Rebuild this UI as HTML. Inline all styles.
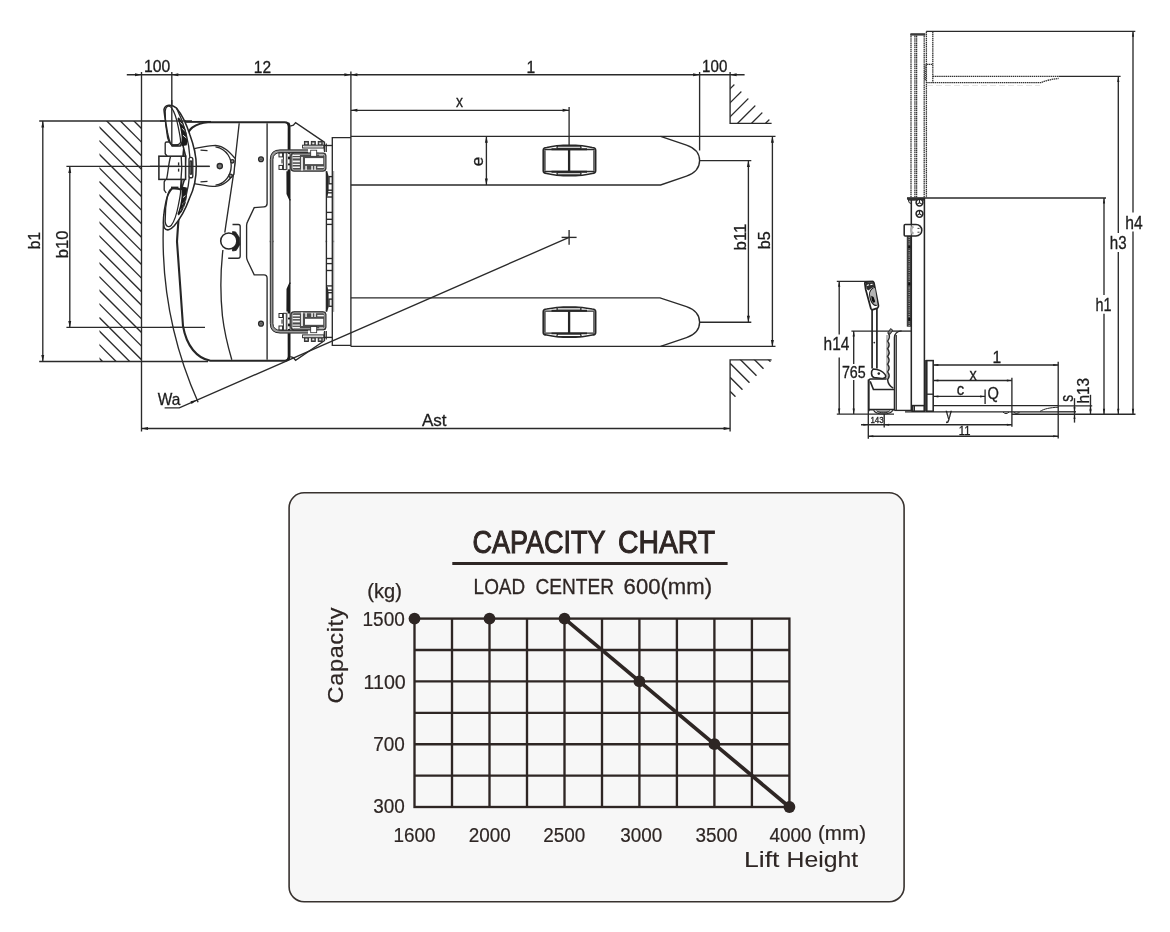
<!DOCTYPE html>
<html lang="en"><head><meta charset="utf-8"><title>Stacker dimensions and capacity chart</title>
<style>
html,body{margin:0;padding:0;background:#fff;}
body{width:1170px;height:932px;overflow:hidden;}
svg{display:block;font-family:"Liberation Sans",sans-serif;will-change:transform;transform:translateZ(0);}
.t{stroke:#2a2a2a;stroke-width:1.35;}
.m{stroke:#262626;stroke-width:1.55;}
.d{stroke:#333;stroke-width:1.3;stroke-dasharray:1.5 0.6;fill:none;}
.d2{stroke:#444;stroke-width:1.1;stroke-dasharray:1.7 0.9;fill:none;}
.ah{fill:#1e1e1e;stroke:none;}
.lbl text{fill:#1c1c1c;stroke:#1c1c1c;stroke-width:0.3;}

</style></head>
<body>
<svg width="1170" height="932" viewBox="0 0 1170 932">
<rect x="0" y="0" width="1170" height="932" fill="#ffffff"/>
<g id="topview">
<clipPath id="h1"><polygon points="99.5,121 141.5,121 141.5,361.5 99.5,361.5"/></clipPath>
<g clip-path="url(#h1)" class="t">
<line x1="90.0" y1="-1133.4" x2="150.0" y2="-1073.4" />
<line x1="90.0" y1="-1119.8" x2="150.0" y2="-1059.8" />
<line x1="90.0" y1="-1106.2" x2="150.0" y2="-1046.2" />
<line x1="90.0" y1="-1092.6" x2="150.0" y2="-1032.6" />
<line x1="90.0" y1="-1079.0" x2="150.0" y2="-1019.0" />
<line x1="90.0" y1="-1065.4" x2="150.0" y2="-1005.4" />
<line x1="90.0" y1="-1051.8" x2="150.0" y2="-991.8" />
<line x1="90.0" y1="-1038.2" x2="150.0" y2="-978.2" />
<line x1="90.0" y1="-1024.6" x2="150.0" y2="-964.6" />
<line x1="90.0" y1="-1011.0" x2="150.0" y2="-951.0" />
<line x1="90.0" y1="-997.4" x2="150.0" y2="-937.4" />
<line x1="90.0" y1="-983.8" x2="150.0" y2="-923.8" />
<line x1="90.0" y1="-970.2" x2="150.0" y2="-910.2" />
<line x1="90.0" y1="-956.6" x2="150.0" y2="-896.6" />
<line x1="90.0" y1="-943.0" x2="150.0" y2="-883.0" />
<line x1="90.0" y1="-929.4" x2="150.0" y2="-869.4" />
<line x1="90.0" y1="-915.8" x2="150.0" y2="-855.8" />
<line x1="90.0" y1="-902.2" x2="150.0" y2="-842.2" />
<line x1="90.0" y1="-888.6" x2="150.0" y2="-828.6" />
<line x1="90.0" y1="-875.0" x2="150.0" y2="-815.0" />
<line x1="90.0" y1="-861.4" x2="150.0" y2="-801.4" />
<line x1="90.0" y1="-847.8" x2="150.0" y2="-787.8" />
<line x1="90.0" y1="-834.2" x2="150.0" y2="-774.2" />
<line x1="90.0" y1="-820.6" x2="150.0" y2="-760.6" />
<line x1="90.0" y1="-807.0" x2="150.0" y2="-747.0" />
<line x1="90.0" y1="-793.4" x2="150.0" y2="-733.4" />
<line x1="90.0" y1="-779.8" x2="150.0" y2="-719.8" />
<line x1="90.0" y1="-766.2" x2="150.0" y2="-706.2" />
<line x1="90.0" y1="-752.6" x2="150.0" y2="-692.6" />
<line x1="90.0" y1="-739.0" x2="150.0" y2="-679.0" />
<line x1="90.0" y1="-725.4" x2="150.0" y2="-665.4" />
<line x1="90.0" y1="-711.8" x2="150.0" y2="-651.8" />
<line x1="90.0" y1="-698.2" x2="150.0" y2="-638.2" />
<line x1="90.0" y1="-684.6" x2="150.0" y2="-624.6" />
<line x1="90.0" y1="-671.0" x2="150.0" y2="-611.0" />
<line x1="90.0" y1="-657.4" x2="150.0" y2="-597.4" />
<line x1="90.0" y1="-643.8" x2="150.0" y2="-583.8" />
<line x1="90.0" y1="-630.2" x2="150.0" y2="-570.2" />
<line x1="90.0" y1="-616.6" x2="150.0" y2="-556.6" />
<line x1="90.0" y1="-603.0" x2="150.0" y2="-543.0" />
<line x1="90.0" y1="-589.4" x2="150.0" y2="-529.4" />
<line x1="90.0" y1="-575.8" x2="150.0" y2="-515.8" />
<line x1="90.0" y1="-562.2" x2="150.0" y2="-502.2" />
<line x1="90.0" y1="-548.6" x2="150.0" y2="-488.6" />
<line x1="90.0" y1="-535.0" x2="150.0" y2="-475.0" />
<line x1="90.0" y1="-521.4" x2="150.0" y2="-461.4" />
<line x1="90.0" y1="-507.8" x2="150.0" y2="-447.8" />
<line x1="90.0" y1="-494.2" x2="150.0" y2="-434.2" />
<line x1="90.0" y1="-480.6" x2="150.0" y2="-420.6" />
<line x1="90.0" y1="-467.0" x2="150.0" y2="-407.0" />
<line x1="90.0" y1="-453.4" x2="150.0" y2="-393.4" />
<line x1="90.0" y1="-439.8" x2="150.0" y2="-379.8" />
<line x1="90.0" y1="-426.2" x2="150.0" y2="-366.2" />
<line x1="90.0" y1="-412.6" x2="150.0" y2="-352.6" />
<line x1="90.0" y1="-399.0" x2="150.0" y2="-339.0" />
<line x1="90.0" y1="-385.4" x2="150.0" y2="-325.4" />
<line x1="90.0" y1="-371.8" x2="150.0" y2="-311.8" />
<line x1="90.0" y1="-358.2" x2="150.0" y2="-298.2" />
<line x1="90.0" y1="-344.6" x2="150.0" y2="-284.6" />
<line x1="90.0" y1="-331.0" x2="150.0" y2="-271.0" />
<line x1="90.0" y1="-317.4" x2="150.0" y2="-257.4" />
<line x1="90.0" y1="-303.8" x2="150.0" y2="-243.8" />
<line x1="90.0" y1="-290.2" x2="150.0" y2="-230.2" />
<line x1="90.0" y1="-276.6" x2="150.0" y2="-216.6" />
<line x1="90.0" y1="-263.0" x2="150.0" y2="-203.0" />
<line x1="90.0" y1="-249.4" x2="150.0" y2="-189.4" />
<line x1="90.0" y1="-235.8" x2="150.0" y2="-175.8" />
<line x1="90.0" y1="-222.2" x2="150.0" y2="-162.2" />
<line x1="90.0" y1="-208.6" x2="150.0" y2="-148.6" />
<line x1="90.0" y1="-195.0" x2="150.0" y2="-135.0" />
<line x1="90.0" y1="-181.4" x2="150.0" y2="-121.4" />
<line x1="90.0" y1="-167.8" x2="150.0" y2="-107.8" />
<line x1="90.0" y1="-154.2" x2="150.0" y2="-94.2" />
<line x1="90.0" y1="-140.6" x2="150.0" y2="-80.6" />
<line x1="90.0" y1="-127.0" x2="150.0" y2="-67.0" />
<line x1="90.0" y1="-113.4" x2="150.0" y2="-53.4" />
<line x1="90.0" y1="-99.8" x2="150.0" y2="-39.8" />
<line x1="90.0" y1="-86.2" x2="150.0" y2="-26.2" />
<line x1="90.0" y1="-72.6" x2="150.0" y2="-12.6" />
<line x1="90.0" y1="-59.0" x2="150.0" y2="1.0" />
<line x1="90.0" y1="-45.4" x2="150.0" y2="14.6" />
<line x1="90.0" y1="-31.8" x2="150.0" y2="28.2" />
<line x1="90.0" y1="-18.2" x2="150.0" y2="41.8" />
<line x1="90.0" y1="-4.6" x2="150.0" y2="55.4" />
<line x1="90.0" y1="9.0" x2="150.0" y2="69.0" />
<line x1="90.0" y1="22.6" x2="150.0" y2="82.6" />
<line x1="90.0" y1="36.2" x2="150.0" y2="96.2" />
<line x1="90.0" y1="49.8" x2="150.0" y2="109.8" />
<line x1="90.0" y1="63.4" x2="150.0" y2="123.4" />
<line x1="90.0" y1="77.0" x2="150.0" y2="137.0" />
<line x1="90.0" y1="90.6" x2="150.0" y2="150.6" />
<line x1="90.0" y1="104.2" x2="150.0" y2="164.2" />
<line x1="90.0" y1="117.8" x2="150.0" y2="177.8" />
<line x1="90.0" y1="131.4" x2="150.0" y2="191.4" />
<line x1="90.0" y1="145.0" x2="150.0" y2="205.0" />
<line x1="90.0" y1="158.6" x2="150.0" y2="218.6" />
<line x1="90.0" y1="172.2" x2="150.0" y2="232.2" />
<line x1="90.0" y1="185.8" x2="150.0" y2="245.8" />
<line x1="90.0" y1="199.4" x2="150.0" y2="259.4" />
<line x1="90.0" y1="213.0" x2="150.0" y2="273.0" />
<line x1="90.0" y1="226.6" x2="150.0" y2="286.6" />
<line x1="90.0" y1="240.2" x2="150.0" y2="300.2" />
<line x1="90.0" y1="253.8" x2="150.0" y2="313.8" />
<line x1="90.0" y1="267.4" x2="150.0" y2="327.4" />
<line x1="90.0" y1="281.0" x2="150.0" y2="341.0" />
<line x1="90.0" y1="294.6" x2="150.0" y2="354.6" />
<line x1="90.0" y1="308.2" x2="150.0" y2="368.2" />
<line x1="90.0" y1="321.8" x2="150.0" y2="381.8" />
<line x1="90.0" y1="335.4" x2="150.0" y2="395.4" />
<line x1="90.0" y1="349.0" x2="150.0" y2="409.0" />
<line x1="90.0" y1="362.6" x2="150.0" y2="422.6" />
<line x1="90.0" y1="376.2" x2="150.0" y2="436.2" />
<line x1="90.0" y1="389.8" x2="150.0" y2="449.8" />
<line x1="90.0" y1="403.4" x2="150.0" y2="463.4" />
<line x1="90.0" y1="417.0" x2="150.0" y2="477.0" />
<line x1="90.0" y1="430.6" x2="150.0" y2="490.6" />
<line x1="90.0" y1="444.2" x2="150.0" y2="504.2" />
<line x1="90.0" y1="457.8" x2="150.0" y2="517.8" />
<line x1="90.0" y1="471.4" x2="150.0" y2="531.4" />
<line x1="90.0" y1="485.0" x2="150.0" y2="545.0" />
<line x1="90.0" y1="498.6" x2="150.0" y2="558.6" />
<line x1="90.0" y1="512.2" x2="150.0" y2="572.2" />
<line x1="90.0" y1="525.8" x2="150.0" y2="585.8" />
<line x1="90.0" y1="539.4" x2="150.0" y2="599.4" />
<line x1="90.0" y1="553.0" x2="150.0" y2="613.0" />
<line x1="90.0" y1="566.6" x2="150.0" y2="626.6" />
<line x1="90.0" y1="580.2" x2="150.0" y2="640.2" />
<line x1="90.0" y1="593.8" x2="150.0" y2="653.8" />
<line x1="90.0" y1="607.4" x2="150.0" y2="667.4" />
<line x1="90.0" y1="621.0" x2="150.0" y2="681.0" />
<line x1="90.0" y1="634.6" x2="150.0" y2="694.6" />
<line x1="90.0" y1="648.2" x2="150.0" y2="708.2" />
<line x1="90.0" y1="661.8" x2="150.0" y2="721.8" />
<line x1="90.0" y1="675.4" x2="150.0" y2="735.4" />
<line x1="90.0" y1="689.0" x2="150.0" y2="749.0" />
<line x1="90.0" y1="702.6" x2="150.0" y2="762.6" />
<line x1="90.0" y1="716.2" x2="150.0" y2="776.2" />
<line x1="90.0" y1="729.8" x2="150.0" y2="789.8" />
<line x1="90.0" y1="743.4" x2="150.0" y2="803.4" />
<line x1="90.0" y1="757.0" x2="150.0" y2="817.0" />
<line x1="90.0" y1="770.6" x2="150.0" y2="830.6" />
<line x1="90.0" y1="784.2" x2="150.0" y2="844.2" />
<line x1="90.0" y1="797.8" x2="150.0" y2="857.8" />
<line x1="90.0" y1="811.4" x2="150.0" y2="871.4" />
<line x1="90.0" y1="825.0" x2="150.0" y2="885.0" />
<line x1="90.0" y1="838.6" x2="150.0" y2="898.6" />
<line x1="90.0" y1="852.2" x2="150.0" y2="912.2" />
<line x1="90.0" y1="865.8" x2="150.0" y2="925.8" />
<line x1="90.0" y1="879.4" x2="150.0" y2="939.4" />
<line x1="90.0" y1="893.0" x2="150.0" y2="953.0" />
<line x1="90.0" y1="906.6" x2="150.0" y2="966.6" />
<line x1="90.0" y1="920.2" x2="150.0" y2="980.2" />
<line x1="90.0" y1="933.8" x2="150.0" y2="993.8" />
<line x1="90.0" y1="947.4" x2="150.0" y2="1007.4" />
<line x1="90.0" y1="961.0" x2="150.0" y2="1021.0" />
<line x1="90.0" y1="974.6" x2="150.0" y2="1034.6" />
<line x1="90.0" y1="988.2" x2="150.0" y2="1048.2" />
<line x1="90.0" y1="1001.8" x2="150.0" y2="1061.8" />
<line x1="90.0" y1="1015.4" x2="150.0" y2="1075.4" />
<line x1="90.0" y1="1029.0" x2="150.0" y2="1089.0" />
<line x1="90.0" y1="1042.6" x2="150.0" y2="1102.6" />
<line x1="90.0" y1="1056.2" x2="150.0" y2="1116.2" />
<line x1="90.0" y1="1069.8" x2="150.0" y2="1129.8" />
<line x1="90.0" y1="1083.4" x2="150.0" y2="1143.4" />
<line x1="90.0" y1="1097.0" x2="150.0" y2="1157.0" />
<line x1="90.0" y1="1110.6" x2="150.0" y2="1170.6" />
<line x1="90.0" y1="1124.2" x2="150.0" y2="1184.2" />
<line x1="90.0" y1="1137.8" x2="150.0" y2="1197.8" />
<line x1="90.0" y1="1151.4" x2="150.0" y2="1211.4" />
<line x1="90.0" y1="1165.0" x2="150.0" y2="1225.0" />
<line x1="90.0" y1="1178.6" x2="150.0" y2="1238.6" />
<line x1="90.0" y1="1192.2" x2="150.0" y2="1252.2" />
<line x1="90.0" y1="1205.8" x2="150.0" y2="1265.8" />
<line x1="90.0" y1="1219.4" x2="150.0" y2="1279.4" />
<line x1="90.0" y1="1233.0" x2="150.0" y2="1293.0" />
<line x1="90.0" y1="1246.6" x2="150.0" y2="1306.6" />
<line x1="90.0" y1="1260.2" x2="150.0" y2="1320.2" />
<line x1="90.0" y1="1273.8" x2="150.0" y2="1333.8" />
<line x1="90.0" y1="1287.4" x2="150.0" y2="1347.4" />
<line x1="90.0" y1="1301.0" x2="150.0" y2="1361.0" />
</g>
<clipPath id="h2"><polygon points="730.1,80.3 730.1,123.4 771.6,123.4 771.6,121.8"/></clipPath>
<g clip-path="url(#h2)" class="t">
<line x1="723.0" y1="-1976.1" x2="780.0" y2="-2033.1" />
<line x1="723.0" y1="-1962.1" x2="780.0" y2="-2019.1" />
<line x1="723.0" y1="-1948.1" x2="780.0" y2="-2005.1" />
<line x1="723.0" y1="-1934.1" x2="780.0" y2="-1991.1" />
<line x1="723.0" y1="-1920.1" x2="780.0" y2="-1977.1" />
<line x1="723.0" y1="-1906.1" x2="780.0" y2="-1963.1" />
<line x1="723.0" y1="-1892.1" x2="780.0" y2="-1949.1" />
<line x1="723.0" y1="-1878.1" x2="780.0" y2="-1935.1" />
<line x1="723.0" y1="-1864.1" x2="780.0" y2="-1921.1" />
<line x1="723.0" y1="-1850.1" x2="780.0" y2="-1907.1" />
<line x1="723.0" y1="-1836.1" x2="780.0" y2="-1893.1" />
<line x1="723.0" y1="-1822.1" x2="780.0" y2="-1879.1" />
<line x1="723.0" y1="-1808.1" x2="780.0" y2="-1865.1" />
<line x1="723.0" y1="-1794.1" x2="780.0" y2="-1851.1" />
<line x1="723.0" y1="-1780.1" x2="780.0" y2="-1837.1" />
<line x1="723.0" y1="-1766.1" x2="780.0" y2="-1823.1" />
<line x1="723.0" y1="-1752.1" x2="780.0" y2="-1809.1" />
<line x1="723.0" y1="-1738.1" x2="780.0" y2="-1795.1" />
<line x1="723.0" y1="-1724.1" x2="780.0" y2="-1781.1" />
<line x1="723.0" y1="-1710.1" x2="780.0" y2="-1767.1" />
<line x1="723.0" y1="-1696.1" x2="780.0" y2="-1753.1" />
<line x1="723.0" y1="-1682.1" x2="780.0" y2="-1739.1" />
<line x1="723.0" y1="-1668.1" x2="780.0" y2="-1725.1" />
<line x1="723.0" y1="-1654.1" x2="780.0" y2="-1711.1" />
<line x1="723.0" y1="-1640.1" x2="780.0" y2="-1697.1" />
<line x1="723.0" y1="-1626.1" x2="780.0" y2="-1683.1" />
<line x1="723.0" y1="-1612.1" x2="780.0" y2="-1669.1" />
<line x1="723.0" y1="-1598.1" x2="780.0" y2="-1655.1" />
<line x1="723.0" y1="-1584.1" x2="780.0" y2="-1641.1" />
<line x1="723.0" y1="-1570.1" x2="780.0" y2="-1627.1" />
<line x1="723.0" y1="-1556.1" x2="780.0" y2="-1613.1" />
<line x1="723.0" y1="-1542.1" x2="780.0" y2="-1599.1" />
<line x1="723.0" y1="-1528.1" x2="780.0" y2="-1585.1" />
<line x1="723.0" y1="-1514.1" x2="780.0" y2="-1571.1" />
<line x1="723.0" y1="-1500.1" x2="780.0" y2="-1557.1" />
<line x1="723.0" y1="-1486.1" x2="780.0" y2="-1543.1" />
<line x1="723.0" y1="-1472.1" x2="780.0" y2="-1529.1" />
<line x1="723.0" y1="-1458.1" x2="780.0" y2="-1515.1" />
<line x1="723.0" y1="-1444.1" x2="780.0" y2="-1501.1" />
<line x1="723.0" y1="-1430.1" x2="780.0" y2="-1487.1" />
<line x1="723.0" y1="-1416.1" x2="780.0" y2="-1473.1" />
<line x1="723.0" y1="-1402.1" x2="780.0" y2="-1459.1" />
<line x1="723.0" y1="-1388.1" x2="780.0" y2="-1445.1" />
<line x1="723.0" y1="-1374.1" x2="780.0" y2="-1431.1" />
<line x1="723.0" y1="-1360.1" x2="780.0" y2="-1417.1" />
<line x1="723.0" y1="-1346.1" x2="780.0" y2="-1403.1" />
<line x1="723.0" y1="-1332.1" x2="780.0" y2="-1389.1" />
<line x1="723.0" y1="-1318.1" x2="780.0" y2="-1375.1" />
<line x1="723.0" y1="-1304.1" x2="780.0" y2="-1361.1" />
<line x1="723.0" y1="-1290.1" x2="780.0" y2="-1347.1" />
<line x1="723.0" y1="-1276.1" x2="780.0" y2="-1333.1" />
<line x1="723.0" y1="-1262.1" x2="780.0" y2="-1319.1" />
<line x1="723.0" y1="-1248.1" x2="780.0" y2="-1305.1" />
<line x1="723.0" y1="-1234.1" x2="780.0" y2="-1291.1" />
<line x1="723.0" y1="-1220.1" x2="780.0" y2="-1277.1" />
<line x1="723.0" y1="-1206.1" x2="780.0" y2="-1263.1" />
<line x1="723.0" y1="-1192.1" x2="780.0" y2="-1249.1" />
<line x1="723.0" y1="-1178.1" x2="780.0" y2="-1235.1" />
<line x1="723.0" y1="-1164.1" x2="780.0" y2="-1221.1" />
<line x1="723.0" y1="-1150.1" x2="780.0" y2="-1207.1" />
<line x1="723.0" y1="-1136.1" x2="780.0" y2="-1193.1" />
<line x1="723.0" y1="-1122.1" x2="780.0" y2="-1179.1" />
<line x1="723.0" y1="-1108.1" x2="780.0" y2="-1165.1" />
<line x1="723.0" y1="-1094.1" x2="780.0" y2="-1151.1" />
<line x1="723.0" y1="-1080.1" x2="780.0" y2="-1137.1" />
<line x1="723.0" y1="-1066.1" x2="780.0" y2="-1123.1" />
<line x1="723.0" y1="-1052.1" x2="780.0" y2="-1109.1" />
<line x1="723.0" y1="-1038.1" x2="780.0" y2="-1095.1" />
<line x1="723.0" y1="-1024.1" x2="780.0" y2="-1081.1" />
<line x1="723.0" y1="-1010.1" x2="780.0" y2="-1067.1" />
<line x1="723.0" y1="-996.1" x2="780.0" y2="-1053.1" />
<line x1="723.0" y1="-982.1" x2="780.0" y2="-1039.1" />
<line x1="723.0" y1="-968.1" x2="780.0" y2="-1025.1" />
<line x1="723.0" y1="-954.1" x2="780.0" y2="-1011.1" />
<line x1="723.0" y1="-940.1" x2="780.0" y2="-997.1" />
<line x1="723.0" y1="-926.1" x2="780.0" y2="-983.1" />
<line x1="723.0" y1="-912.1" x2="780.0" y2="-969.1" />
<line x1="723.0" y1="-898.1" x2="780.0" y2="-955.1" />
<line x1="723.0" y1="-884.1" x2="780.0" y2="-941.1" />
<line x1="723.0" y1="-870.1" x2="780.0" y2="-927.1" />
<line x1="723.0" y1="-856.1" x2="780.0" y2="-913.1" />
<line x1="723.0" y1="-842.1" x2="780.0" y2="-899.1" />
<line x1="723.0" y1="-828.1" x2="780.0" y2="-885.1" />
<line x1="723.0" y1="-814.1" x2="780.0" y2="-871.1" />
<line x1="723.0" y1="-800.1" x2="780.0" y2="-857.1" />
<line x1="723.0" y1="-786.1" x2="780.0" y2="-843.1" />
<line x1="723.0" y1="-772.1" x2="780.0" y2="-829.1" />
<line x1="723.0" y1="-758.1" x2="780.0" y2="-815.1" />
<line x1="723.0" y1="-744.1" x2="780.0" y2="-801.1" />
<line x1="723.0" y1="-730.1" x2="780.0" y2="-787.1" />
<line x1="723.0" y1="-716.1" x2="780.0" y2="-773.1" />
<line x1="723.0" y1="-702.1" x2="780.0" y2="-759.1" />
<line x1="723.0" y1="-688.1" x2="780.0" y2="-745.1" />
<line x1="723.0" y1="-674.1" x2="780.0" y2="-731.1" />
<line x1="723.0" y1="-660.1" x2="780.0" y2="-717.1" />
<line x1="723.0" y1="-646.1" x2="780.0" y2="-703.1" />
<line x1="723.0" y1="-632.1" x2="780.0" y2="-689.1" />
<line x1="723.0" y1="-618.1" x2="780.0" y2="-675.1" />
<line x1="723.0" y1="-604.1" x2="780.0" y2="-661.1" />
<line x1="723.0" y1="-590.1" x2="780.0" y2="-647.1" />
<line x1="723.0" y1="-576.1" x2="780.0" y2="-633.1" />
<line x1="723.0" y1="-562.1" x2="780.0" y2="-619.1" />
<line x1="723.0" y1="-548.1" x2="780.0" y2="-605.1" />
<line x1="723.0" y1="-534.1" x2="780.0" y2="-591.1" />
<line x1="723.0" y1="-520.1" x2="780.0" y2="-577.1" />
<line x1="723.0" y1="-506.1" x2="780.0" y2="-563.1" />
<line x1="723.0" y1="-492.1" x2="780.0" y2="-549.1" />
<line x1="723.0" y1="-478.1" x2="780.0" y2="-535.1" />
<line x1="723.0" y1="-464.1" x2="780.0" y2="-521.1" />
<line x1="723.0" y1="-450.1" x2="780.0" y2="-507.1" />
<line x1="723.0" y1="-436.1" x2="780.0" y2="-493.1" />
<line x1="723.0" y1="-422.1" x2="780.0" y2="-479.1" />
<line x1="723.0" y1="-408.1" x2="780.0" y2="-465.1" />
<line x1="723.0" y1="-394.1" x2="780.0" y2="-451.1" />
<line x1="723.0" y1="-380.1" x2="780.0" y2="-437.1" />
<line x1="723.0" y1="-366.1" x2="780.0" y2="-423.1" />
<line x1="723.0" y1="-352.1" x2="780.0" y2="-409.1" />
<line x1="723.0" y1="-338.1" x2="780.0" y2="-395.1" />
<line x1="723.0" y1="-324.1" x2="780.0" y2="-381.1" />
<line x1="723.0" y1="-310.1" x2="780.0" y2="-367.1" />
<line x1="723.0" y1="-296.1" x2="780.0" y2="-353.1" />
<line x1="723.0" y1="-282.1" x2="780.0" y2="-339.1" />
<line x1="723.0" y1="-268.1" x2="780.0" y2="-325.1" />
<line x1="723.0" y1="-254.1" x2="780.0" y2="-311.1" />
<line x1="723.0" y1="-240.1" x2="780.0" y2="-297.1" />
<line x1="723.0" y1="-226.1" x2="780.0" y2="-283.1" />
<line x1="723.0" y1="-212.1" x2="780.0" y2="-269.1" />
<line x1="723.0" y1="-198.1" x2="780.0" y2="-255.1" />
<line x1="723.0" y1="-184.1" x2="780.0" y2="-241.1" />
<line x1="723.0" y1="-170.1" x2="780.0" y2="-227.1" />
<line x1="723.0" y1="-156.1" x2="780.0" y2="-213.1" />
<line x1="723.0" y1="-142.1" x2="780.0" y2="-199.1" />
<line x1="723.0" y1="-128.1" x2="780.0" y2="-185.1" />
<line x1="723.0" y1="-114.1" x2="780.0" y2="-171.1" />
<line x1="723.0" y1="-100.1" x2="780.0" y2="-157.1" />
<line x1="723.0" y1="-86.1" x2="780.0" y2="-143.1" />
<line x1="723.0" y1="-72.1" x2="780.0" y2="-129.1" />
<line x1="723.0" y1="-58.1" x2="780.0" y2="-115.1" />
<line x1="723.0" y1="-44.1" x2="780.0" y2="-101.1" />
<line x1="723.0" y1="-30.1" x2="780.0" y2="-87.1" />
<line x1="723.0" y1="-16.1" x2="780.0" y2="-73.1" />
<line x1="723.0" y1="-2.1" x2="780.0" y2="-59.1" />
<line x1="723.0" y1="11.9" x2="780.0" y2="-45.1" />
<line x1="723.0" y1="25.9" x2="780.0" y2="-31.1" />
<line x1="723.0" y1="39.9" x2="780.0" y2="-17.1" />
<line x1="723.0" y1="53.9" x2="780.0" y2="-3.1" />
<line x1="723.0" y1="67.9" x2="780.0" y2="10.9" />
<line x1="723.0" y1="81.9" x2="780.0" y2="24.9" />
<line x1="723.0" y1="95.9" x2="780.0" y2="38.9" />
<line x1="723.0" y1="109.9" x2="780.0" y2="52.9" />
<line x1="723.0" y1="123.9" x2="780.0" y2="66.9" />
<line x1="723.0" y1="137.9" x2="780.0" y2="80.9" />
<line x1="723.0" y1="151.9" x2="780.0" y2="94.9" />
<line x1="723.0" y1="165.9" x2="780.0" y2="108.9" />
<line x1="723.0" y1="179.9" x2="780.0" y2="122.9" />
<line x1="723.0" y1="193.9" x2="780.0" y2="136.9" />
<line x1="723.0" y1="207.9" x2="780.0" y2="150.9" />
<line x1="723.0" y1="221.9" x2="780.0" y2="164.9" />
<line x1="723.0" y1="235.9" x2="780.0" y2="178.9" />
<line x1="723.0" y1="249.9" x2="780.0" y2="192.9" />
<line x1="723.0" y1="263.9" x2="780.0" y2="206.9" />
<line x1="723.0" y1="277.9" x2="780.0" y2="220.9" />
<line x1="723.0" y1="291.9" x2="780.0" y2="234.9" />
<line x1="723.0" y1="305.9" x2="780.0" y2="248.9" />
<line x1="723.0" y1="319.9" x2="780.0" y2="262.9" />
<line x1="723.0" y1="333.9" x2="780.0" y2="276.9" />
<line x1="723.0" y1="347.9" x2="780.0" y2="290.9" />
<line x1="723.0" y1="361.9" x2="780.0" y2="304.9" />
<line x1="723.0" y1="375.9" x2="780.0" y2="318.9" />
<line x1="723.0" y1="389.9" x2="780.0" y2="332.9" />
<line x1="723.0" y1="403.9" x2="780.0" y2="346.9" />
<line x1="723.0" y1="417.9" x2="780.0" y2="360.9" />
<line x1="723.0" y1="431.9" x2="780.0" y2="374.9" />
<line x1="723.0" y1="445.9" x2="780.0" y2="388.9" />
<line x1="723.0" y1="459.9" x2="780.0" y2="402.9" />
<line x1="723.0" y1="473.9" x2="780.0" y2="416.9" />
<line x1="723.0" y1="487.9" x2="780.0" y2="430.9" />
<line x1="723.0" y1="501.9" x2="780.0" y2="444.9" />
<line x1="723.0" y1="515.9" x2="780.0" y2="458.9" />
<line x1="723.0" y1="529.9" x2="780.0" y2="472.9" />
</g>
<clipPath id="h3"><polygon points="730.1,359.8 771.6,359.8 771.6,360.6 730.1,402.1"/></clipPath>
<g clip-path="url(#h3)" class="t">
<line x1="723.0" y1="-539.8" x2="780.0" y2="-482.8" />
<line x1="723.0" y1="-525.8" x2="780.0" y2="-468.8" />
<line x1="723.0" y1="-511.8" x2="780.0" y2="-454.8" />
<line x1="723.0" y1="-497.8" x2="780.0" y2="-440.8" />
<line x1="723.0" y1="-483.8" x2="780.0" y2="-426.8" />
<line x1="723.0" y1="-469.8" x2="780.0" y2="-412.8" />
<line x1="723.0" y1="-455.8" x2="780.0" y2="-398.8" />
<line x1="723.0" y1="-441.8" x2="780.0" y2="-384.8" />
<line x1="723.0" y1="-427.8" x2="780.0" y2="-370.8" />
<line x1="723.0" y1="-413.8" x2="780.0" y2="-356.8" />
<line x1="723.0" y1="-399.8" x2="780.0" y2="-342.8" />
<line x1="723.0" y1="-385.8" x2="780.0" y2="-328.8" />
<line x1="723.0" y1="-371.8" x2="780.0" y2="-314.8" />
<line x1="723.0" y1="-357.8" x2="780.0" y2="-300.8" />
<line x1="723.0" y1="-343.8" x2="780.0" y2="-286.8" />
<line x1="723.0" y1="-329.8" x2="780.0" y2="-272.8" />
<line x1="723.0" y1="-315.8" x2="780.0" y2="-258.8" />
<line x1="723.0" y1="-301.8" x2="780.0" y2="-244.8" />
<line x1="723.0" y1="-287.8" x2="780.0" y2="-230.8" />
<line x1="723.0" y1="-273.8" x2="780.0" y2="-216.8" />
<line x1="723.0" y1="-259.8" x2="780.0" y2="-202.8" />
<line x1="723.0" y1="-245.8" x2="780.0" y2="-188.8" />
<line x1="723.0" y1="-231.8" x2="780.0" y2="-174.8" />
<line x1="723.0" y1="-217.8" x2="780.0" y2="-160.8" />
<line x1="723.0" y1="-203.8" x2="780.0" y2="-146.8" />
<line x1="723.0" y1="-189.8" x2="780.0" y2="-132.8" />
<line x1="723.0" y1="-175.8" x2="780.0" y2="-118.8" />
<line x1="723.0" y1="-161.8" x2="780.0" y2="-104.8" />
<line x1="723.0" y1="-147.8" x2="780.0" y2="-90.8" />
<line x1="723.0" y1="-133.8" x2="780.0" y2="-76.8" />
<line x1="723.0" y1="-119.8" x2="780.0" y2="-62.8" />
<line x1="723.0" y1="-105.8" x2="780.0" y2="-48.8" />
<line x1="723.0" y1="-91.8" x2="780.0" y2="-34.8" />
<line x1="723.0" y1="-77.8" x2="780.0" y2="-20.8" />
<line x1="723.0" y1="-63.8" x2="780.0" y2="-6.8" />
<line x1="723.0" y1="-49.8" x2="780.0" y2="7.2" />
<line x1="723.0" y1="-35.8" x2="780.0" y2="21.2" />
<line x1="723.0" y1="-21.8" x2="780.0" y2="35.2" />
<line x1="723.0" y1="-7.8" x2="780.0" y2="49.2" />
<line x1="723.0" y1="6.2" x2="780.0" y2="63.2" />
<line x1="723.0" y1="20.2" x2="780.0" y2="77.2" />
<line x1="723.0" y1="34.2" x2="780.0" y2="91.2" />
<line x1="723.0" y1="48.2" x2="780.0" y2="105.2" />
<line x1="723.0" y1="62.2" x2="780.0" y2="119.2" />
<line x1="723.0" y1="76.2" x2="780.0" y2="133.2" />
<line x1="723.0" y1="90.2" x2="780.0" y2="147.2" />
<line x1="723.0" y1="104.2" x2="780.0" y2="161.2" />
<line x1="723.0" y1="118.2" x2="780.0" y2="175.2" />
<line x1="723.0" y1="132.2" x2="780.0" y2="189.2" />
<line x1="723.0" y1="146.2" x2="780.0" y2="203.2" />
<line x1="723.0" y1="160.2" x2="780.0" y2="217.2" />
<line x1="723.0" y1="174.2" x2="780.0" y2="231.2" />
<line x1="723.0" y1="188.2" x2="780.0" y2="245.2" />
<line x1="723.0" y1="202.2" x2="780.0" y2="259.2" />
<line x1="723.0" y1="216.2" x2="780.0" y2="273.2" />
<line x1="723.0" y1="230.2" x2="780.0" y2="287.2" />
<line x1="723.0" y1="244.2" x2="780.0" y2="301.2" />
<line x1="723.0" y1="258.2" x2="780.0" y2="315.2" />
<line x1="723.0" y1="272.2" x2="780.0" y2="329.2" />
<line x1="723.0" y1="286.2" x2="780.0" y2="343.2" />
<line x1="723.0" y1="300.2" x2="780.0" y2="357.2" />
<line x1="723.0" y1="314.2" x2="780.0" y2="371.2" />
<line x1="723.0" y1="328.2" x2="780.0" y2="385.2" />
<line x1="723.0" y1="342.2" x2="780.0" y2="399.2" />
<line x1="723.0" y1="356.2" x2="780.0" y2="413.2" />
<line x1="723.0" y1="370.2" x2="780.0" y2="427.2" />
<line x1="723.0" y1="384.2" x2="780.0" y2="441.2" />
<line x1="723.0" y1="398.2" x2="780.0" y2="455.2" />
<line x1="723.0" y1="412.2" x2="780.0" y2="469.2" />
<line x1="723.0" y1="426.2" x2="780.0" y2="483.2" />
<line x1="723.0" y1="440.2" x2="780.0" y2="497.2" />
<line x1="723.0" y1="454.2" x2="780.0" y2="511.2" />
<line x1="723.0" y1="468.2" x2="780.0" y2="525.2" />
<line x1="723.0" y1="482.2" x2="780.0" y2="539.2" />
<line x1="723.0" y1="496.2" x2="780.0" y2="553.2" />
<line x1="723.0" y1="510.2" x2="780.0" y2="567.2" />
<line x1="723.0" y1="524.2" x2="780.0" y2="581.2" />
<line x1="723.0" y1="538.2" x2="780.0" y2="595.2" />
<line x1="723.0" y1="552.2" x2="780.0" y2="609.2" />
<line x1="723.0" y1="566.2" x2="780.0" y2="623.2" />
<line x1="723.0" y1="580.2" x2="780.0" y2="637.2" />
<line x1="723.0" y1="594.2" x2="780.0" y2="651.2" />
<line x1="723.0" y1="608.2" x2="780.0" y2="665.2" />
<line x1="723.0" y1="622.2" x2="780.0" y2="679.2" />
<line x1="723.0" y1="636.2" x2="780.0" y2="693.2" />
<line x1="723.0" y1="650.2" x2="780.0" y2="707.2" />
<line x1="723.0" y1="664.2" x2="780.0" y2="721.2" />
<line x1="723.0" y1="678.2" x2="780.0" y2="735.2" />
<line x1="723.0" y1="692.2" x2="780.0" y2="749.2" />
<line x1="723.0" y1="706.2" x2="780.0" y2="763.2" />
<line x1="723.0" y1="720.2" x2="780.0" y2="777.2" />
<line x1="723.0" y1="734.2" x2="780.0" y2="791.2" />
<line x1="723.0" y1="748.2" x2="780.0" y2="805.2" />
<line x1="723.0" y1="762.2" x2="780.0" y2="819.2" />
<line x1="723.0" y1="776.2" x2="780.0" y2="833.2" />
<line x1="723.0" y1="790.2" x2="780.0" y2="847.2" />
<line x1="723.0" y1="804.2" x2="780.0" y2="861.2" />
<line x1="723.0" y1="818.2" x2="780.0" y2="875.2" />
<line x1="723.0" y1="832.2" x2="780.0" y2="889.2" />
<line x1="723.0" y1="846.2" x2="780.0" y2="903.2" />
<line x1="723.0" y1="860.2" x2="780.0" y2="917.2" />
<line x1="723.0" y1="874.2" x2="780.0" y2="931.2" />
<line x1="723.0" y1="888.2" x2="780.0" y2="945.2" />
<line x1="723.0" y1="902.2" x2="780.0" y2="959.2" />
<line x1="723.0" y1="916.2" x2="780.0" y2="973.2" />
<line x1="723.0" y1="930.2" x2="780.0" y2="987.2" />
<line x1="723.0" y1="944.2" x2="780.0" y2="1001.2" />
<line x1="723.0" y1="958.2" x2="780.0" y2="1015.2" />
<line x1="723.0" y1="972.2" x2="780.0" y2="1029.2" />
<line x1="723.0" y1="986.2" x2="780.0" y2="1043.2" />
<line x1="723.0" y1="1000.2" x2="780.0" y2="1057.2" />
<line x1="723.0" y1="1014.2" x2="780.0" y2="1071.2" />
<line x1="723.0" y1="1028.2" x2="780.0" y2="1085.2" />
<line x1="723.0" y1="1042.2" x2="780.0" y2="1099.2" />
<line x1="723.0" y1="1056.2" x2="780.0" y2="1113.2" />
<line x1="723.0" y1="1070.2" x2="780.0" y2="1127.2" />
<line x1="723.0" y1="1084.2" x2="780.0" y2="1141.2" />
<line x1="723.0" y1="1098.2" x2="780.0" y2="1155.2" />
<line x1="723.0" y1="1112.2" x2="780.0" y2="1169.2" />
<line x1="723.0" y1="1126.2" x2="780.0" y2="1183.2" />
<line x1="723.0" y1="1140.2" x2="780.0" y2="1197.2" />
<line x1="723.0" y1="1154.2" x2="780.0" y2="1211.2" />
<line x1="723.0" y1="1168.2" x2="780.0" y2="1225.2" />
<line x1="723.0" y1="1182.2" x2="780.0" y2="1239.2" />
<line x1="723.0" y1="1196.2" x2="780.0" y2="1253.2" />
<line x1="723.0" y1="1210.2" x2="780.0" y2="1267.2" />
<line x1="723.0" y1="1224.2" x2="780.0" y2="1281.2" />
<line x1="723.0" y1="1238.2" x2="780.0" y2="1295.2" />
<line x1="723.0" y1="1252.2" x2="780.0" y2="1309.2" />
<line x1="723.0" y1="1266.2" x2="780.0" y2="1323.2" />
<line x1="723.0" y1="1280.2" x2="780.0" y2="1337.2" />
<line x1="723.0" y1="1294.2" x2="780.0" y2="1351.2" />
<line x1="723.0" y1="1308.2" x2="780.0" y2="1365.2" />
<line x1="723.0" y1="1322.2" x2="780.0" y2="1379.2" />
<line x1="723.0" y1="1336.2" x2="780.0" y2="1393.2" />
<line x1="723.0" y1="1350.2" x2="780.0" y2="1407.2" />
<line x1="723.0" y1="1364.2" x2="780.0" y2="1421.2" />
<line x1="723.0" y1="1378.2" x2="780.0" y2="1435.2" />
<line x1="723.0" y1="1392.2" x2="780.0" y2="1449.2" />
<line x1="723.0" y1="1406.2" x2="780.0" y2="1463.2" />
<line x1="723.0" y1="1420.2" x2="780.0" y2="1477.2" />
<line x1="723.0" y1="1434.2" x2="780.0" y2="1491.2" />
<line x1="723.0" y1="1448.2" x2="780.0" y2="1505.2" />
<line x1="723.0" y1="1462.2" x2="780.0" y2="1519.2" />
<line x1="723.0" y1="1476.2" x2="780.0" y2="1533.2" />
<line x1="723.0" y1="1490.2" x2="780.0" y2="1547.2" />
<line x1="723.0" y1="1504.2" x2="780.0" y2="1561.2" />
<line x1="723.0" y1="1518.2" x2="780.0" y2="1575.2" />
<line x1="723.0" y1="1532.2" x2="780.0" y2="1589.2" />
<line x1="723.0" y1="1546.2" x2="780.0" y2="1603.2" />
<line x1="723.0" y1="1560.2" x2="780.0" y2="1617.2" />
<line x1="723.0" y1="1574.2" x2="780.0" y2="1631.2" />
<line x1="723.0" y1="1588.2" x2="780.0" y2="1645.2" />
<line x1="723.0" y1="1602.2" x2="780.0" y2="1659.2" />
<line x1="723.0" y1="1616.2" x2="780.0" y2="1673.2" />
<line x1="723.0" y1="1630.2" x2="780.0" y2="1687.2" />
<line x1="723.0" y1="1644.2" x2="780.0" y2="1701.2" />
<line x1="723.0" y1="1658.2" x2="780.0" y2="1715.2" />
<line x1="723.0" y1="1672.2" x2="780.0" y2="1729.2" />
<line x1="723.0" y1="1686.2" x2="780.0" y2="1743.2" />
<line x1="723.0" y1="1700.2" x2="780.0" y2="1757.2" />
<line x1="723.0" y1="1714.2" x2="780.0" y2="1771.2" />
<line x1="723.0" y1="1728.2" x2="780.0" y2="1785.2" />
<line x1="723.0" y1="1742.2" x2="780.0" y2="1799.2" />
<line x1="723.0" y1="1756.2" x2="780.0" y2="1813.2" />
<line x1="723.0" y1="1770.2" x2="780.0" y2="1827.2" />
<line x1="723.0" y1="1784.2" x2="780.0" y2="1841.2" />
<line x1="723.0" y1="1798.2" x2="780.0" y2="1855.2" />
<line x1="723.0" y1="1812.2" x2="780.0" y2="1869.2" />
<line x1="723.0" y1="1826.2" x2="780.0" y2="1883.2" />
<line x1="723.0" y1="1840.2" x2="780.0" y2="1897.2" />
<line x1="723.0" y1="1854.2" x2="780.0" y2="1911.2" />
<line x1="723.0" y1="1868.2" x2="780.0" y2="1925.2" />
<line x1="723.0" y1="1882.2" x2="780.0" y2="1939.2" />
<line x1="723.0" y1="1896.2" x2="780.0" y2="1953.2" />
<line x1="723.0" y1="1910.2" x2="780.0" y2="1967.2" />
<line x1="723.0" y1="1924.2" x2="780.0" y2="1981.2" />
<line x1="723.0" y1="1938.2" x2="780.0" y2="1995.2" />
<line x1="723.0" y1="1952.2" x2="780.0" y2="2009.2" />
<line x1="723.0" y1="1966.2" x2="780.0" y2="2023.2" />
</g>
<g class="t"><line x1="126.8" y1="74.7" x2="744.6" y2="74.7" />
<line x1="141.5" y1="72.0" x2="141.5" y2="431.5" />
<line x1="171.8" y1="72.0" x2="171.8" y2="146.0" />
<line x1="350.9" y1="71.5" x2="350.9" y2="346.4" />
<line x1="699.6" y1="72.0" x2="699.6" y2="150.5" />
<path d="M730.1,72 V123.4 H771.6" fill="none"/>
<path d="M771.6,359.8 H730.1 V431.5" fill="none"/>
<line x1="141.5" y1="428.5" x2="730.1" y2="428.5" />
<line x1="39.2" y1="121.0" x2="192.0" y2="121.0" />
<line x1="39.2" y1="361.5" x2="208.0" y2="361.5" />
<line x1="42.8" y1="121.0" x2="42.8" y2="361.5" />
<line x1="66.4" y1="166.4" x2="209.7" y2="166.4" />
<line x1="66.4" y1="327.4" x2="205.0" y2="327.4" />
<line x1="69.8" y1="166.4" x2="69.8" y2="327.4" />
<line x1="350.9" y1="110.3" x2="569.1" y2="110.3" />
<line x1="569.1" y1="107.0" x2="569.1" y2="171.0" />
<path d="M350.9,345.3 H332.3 V137.6 H350.9" fill="none"/>
<line x1="350.9" y1="136.3" x2="775.5" y2="136.3" />
<path d="M660.6,136.3 L686.5,145.2 C694,147.8 699.6,152.5 699.6,160.6 C699.6,168.7 694,173.6 686.5,176.2 L660.6,185 H350.9" fill="none"/>
<path d="M350.9,297.8 H660.0 L686.5,306.6 C694,309.2 699.6,314 699.6,322.2 C699.6,330.3 694,335 686.5,337.6 L660.6,346.4" fill="none"/>
<line x1="350.9" y1="346.4" x2="775.5" y2="346.4" />
<line x1="486.4" y1="136.3" x2="486.4" y2="185.0" />
<line x1="699.6" y1="160.6" x2="751.3" y2="160.6" />
<line x1="699.6" y1="322.2" x2="751.3" y2="322.2" />
<line x1="748.4" y1="160.6" x2="748.4" y2="322.2" />
<line x1="772.4" y1="136.3" x2="772.4" y2="346.4" />
<path d="M164.6,407.8 H179.3 L569.1,237.4" fill="none"/>
<line x1="569.1" y1="230.0" x2="569.1" y2="244.8" />
<line x1="561.6" y1="237.4" x2="576.6" y2="237.4" /></g>
<path d="M163.8,214.0 A406.0,406.0 0 0 0 198.1,402.3" class="t" fill="none"/>
<polygon points="141.5,74.7 135.0,76.2 135.0,73.2" class="ah"/>
<polygon points="171.8,74.7 178.3,73.2 178.3,76.2" class="ah"/>
<polygon points="350.9,74.7 344.4,76.2 344.4,73.2" class="ah"/>
<polygon points="350.9,74.7 357.4,73.2 357.4,76.2" class="ah"/>
<polygon points="699.6,74.7 693.1,76.2 693.1,73.2" class="ah"/>
<polygon points="730.1,74.7 736.6,73.2 736.6,76.2" class="ah"/>
<polygon points="350.9,110.3 357.4,108.8 357.4,111.8" class="ah"/>
<polygon points="569.1,110.3 562.6,111.8 562.6,108.8" class="ah"/>
<polygon points="141.5,428.5 148.0,427.1 148.0,429.9" class="ah"/>
<polygon points="730.1,428.5 723.6,429.9 723.6,427.1" class="ah"/>
<polygon points="42.8,121.0 44.2,127.5 41.3,127.5" class="ah"/>
<polygon points="42.8,361.5 41.3,355.0 44.2,355.0" class="ah"/>
<polygon points="69.8,166.4 71.2,172.9 68.3,172.9" class="ah"/>
<polygon points="69.8,327.4 68.3,320.9 71.2,320.9" class="ah"/>
<polygon points="486.4,136.3 487.8,142.8 484.9,142.8" class="ah"/>
<polygon points="486.4,185.0 484.9,178.5 487.8,178.5" class="ah"/>
<polygon points="748.4,160.6 749.9,167.1 746.9,167.1" class="ah"/>
<polygon points="748.4,322.2 746.9,315.7 749.9,315.7" class="ah"/>
<polygon points="772.4,136.3 773.9,142.8 770.9,142.8" class="ah"/>
<polygon points="772.4,346.4 770.9,339.9 773.9,339.9" class="ah"/>
<polygon points="197.0,400.0 191.6,403.9 190.5,401.3" class="ah"/>
<path d="M210.4,122.2 H284.6 Q288.6,122.2 289.2,126.5 M289.2,356.3 Q288.6,360.7 284.6,360.7 H210.4 C197,358.5 186.5,346 183.0,326 C181.4,300 178.2,262 177.0,241.5 C178.2,221 181.4,183 183.6,152 C184.8,140 187.6,131 192.5,127.4 C197,124.4 202,122.8 208,122.3 L210.4,122.2" stroke="#262626" stroke-width="2.1" fill="#fff"/>
<line x1="289.9" y1="199.0" x2="289.9" y2="284.0" class="t" />
<line x1="184.5" y1="121.9" x2="211.0" y2="121.9" stroke="#262626" stroke-width="1.9"/>
<path d="M239.2,123.2 L233.6,173.7 L225.8,225.6 L224.8,232.7 M222.9,250 C220.6,270 220.4,296 222.4,315.8 C223.6,326 226,340 231.8,359.8" class="t" fill="none"/>
<path d="M267.1,123.2 V203.5 Q267.1,206.6 264,206.8 L254.2,207.6 L247.6,221.6 Q246.6,223.4 246.6,225.4 V257 Q246.6,259 247.6,261 L254.2,274.8 H264 Q267.1,274.8 267.1,278.2 V359.8" class="t" fill="none"/>
<path d="M232.5,224.5 H238.4 Q240.2,224.5 240.2,226.4 V256 Q240.2,258.2 238,258.2 H228.2" class="t" fill="none"/>
<path d="M232.5,231.6 L235.6,231.9 L239.4,237.6 L239.9,244.4 L236.2,250.4 L232.5,251.0 Z" fill="#222" stroke="#262626" stroke-width="0.8"/>
<circle cx="228.8" cy="241.0" r="8.1" class="m" fill="#fff"/>
<g>
<path d="M287.7,127 Q287.9,124.6 286.4,123 L289.2,122.6 Q290.5,124 290.5,127 V200.5 L289.4,200.5 L286.5,194 L286.4,171.3 L287.6,171.3 Z" fill="#1c1c1c" stroke="none"/>
<path d="M290.2,126.2 L293.4,125.2 L295.6,122.6 L325.0,142.6" class="t" fill="none"/>
<path d="M324.3,142.6 V152 M326.2,143.4 V152" class="t" fill="none"/>
<line x1="323.8" y1="145.5" x2="332.3" y2="145.5" class="t" />
<path d="M308,151.2 H280.5 Q271.6,151.2 271.6,159.5 V242.2" fill="none" stroke="#9a9a9a" stroke-width="3.0"/>
<path d="M308,149.9 H280 Q270.3,149.9 270.3,159.5 V242.2" fill="none" stroke="#2a2a2a" stroke-width="1.0"/>
<path d="M308,152.6 H281 Q272.9,152.6 272.9,159.5 V242.2" fill="none" stroke="#2a2a2a" stroke-width="1.0"/>
<rect x="304.4" y="141.4" width="4.0" height="3.6" fill="#555" stroke="#2a2a2a" stroke-width="0.9"/>
<rect x="305.4" y="142.6" width="2.0" height="1.8" fill="#e8e8e8" stroke="none"/>
<rect x="311.3" y="141.4" width="4.0" height="3.6" fill="#555" stroke="#2a2a2a" stroke-width="0.9"/>
<rect x="312.3" y="142.6" width="2.0" height="1.8" fill="#e8e8e8" stroke="none"/>
<rect x="318.2" y="141.4" width="4.0" height="3.6" fill="#555" stroke="#2a2a2a" stroke-width="0.9"/>
<rect x="319.2" y="142.6" width="2.0" height="1.8" fill="#e8e8e8" stroke="none"/>
<rect x="302.6" y="145.2" width="21.2" height="2.8" fill="#fff" stroke="#2a2a2a" stroke-width="1.0"/>
<line x1="304.0" y1="146.9" x2="322.5" y2="146.9" stroke="#999" stroke-width="0.9"/>
<rect x="279.0" y="153.0" width="3.6" height="3.9" fill="#fff" stroke="#2a2a2a" stroke-width="1.0"/>
<rect x="279.0" y="165.4" width="3.6" height="4.0" fill="#fff" stroke="#2a2a2a" stroke-width="1.0"/>
<rect x="283.4" y="152.8" width="2.9" height="16.8" fill="#fff" stroke="#2a2a2a" stroke-width="1.0"/>
<rect x="281.2" y="159.2" width="2.2" height="4.2" fill="#777" stroke="none"/>
<rect x="287.9" y="153.9" width="1.7" height="2.7" fill="#fff" stroke="none"/>
<rect x="287.9" y="159.3" width="1.7" height="4.2" fill="#fff" stroke="none"/>
<rect x="287.9" y="165.3" width="1.7" height="4.1" fill="#fff" stroke="none"/>
<rect x="290.8" y="152.9" width="35.2" height="18.3" rx="2.6" fill="#4c4c4c" stroke="#2a2a2a" stroke-width="1.0"/>
<rect x="292.2" y="154.2" width="32.6" height="15.8" rx="2.0" fill="none" stroke="#cfcfcf" stroke-width="0.7"/>
<rect x="292.6" y="154.9" width="7.3" height="1.1" fill="#f4f4f4" stroke="none"/>
<rect x="292.6" y="157.2" width="7.3" height="1.2" fill="#f4f4f4" stroke="none"/>
<rect x="292.6" y="160.5" width="7.3" height="1.8" fill="#f4f4f4" stroke="none"/>
<rect x="292.6" y="163.8" width="7.3" height="1.2" fill="#f4f4f4" stroke="none"/>
<rect x="292.6" y="166.5" width="7.3" height="1.5" fill="#f4f4f4" stroke="none"/>
<rect x="301.1" y="156.9" width="1.8" height="13.7" fill="#f0f0f0" stroke="none"/>
<rect x="305.0" y="158.1" width="18.2" height="6.0" fill="#fff" stroke="none"/>
<rect x="310.7" y="150.2" width="6.0" height="6.1" fill="#fff" stroke="#2a2a2a" stroke-width="0.8"/>
<rect x="318.6" y="150.6" width="5.2" height="1.6" fill="#fff" stroke="none"/>
<rect x="319.2" y="154.4" width="4.2" height="1.2" fill="#ddd" stroke="none"/>
<rect x="305.3" y="165.9" width="1.5" height="4.1" fill="#f0f0f0" stroke="none"/>
<rect x="311.3" y="165.9" width="1.5" height="4.1" fill="#f0f0f0" stroke="none"/>
<rect x="314.3" y="165.9" width="1.5" height="4.1" fill="#f0f0f0" stroke="none"/>
<rect x="317.3" y="166.5" width="6.5" height="1.5" fill="#f4f4f4" stroke="none"/>
<line x1="326.4" y1="171.3" x2="326.4" y2="242.2" class="t" />
<path d="M326.4,171.3 L327.8,176 V190 L326.8,196" fill="none" stroke="#262626" stroke-width="1.6"/>
<rect x="329.0" y="176.6" width="3.3" height="7.2" class="t" fill="#eee"/>
<line x1="326.6" y1="190.2" x2="332.3" y2="190.2" class="t" />
<line x1="326.6" y1="192.8" x2="332.3" y2="192.8" class="t" />
<line x1="326.6" y1="197.0" x2="332.3" y2="197.0" class="t" />
<line x1="326.6" y1="212.4" x2="332.3" y2="212.4" class="t" />
<line x1="326.6" y1="219.3" x2="332.3" y2="219.3" class="t" />
<line x1="326.6" y1="224.4" x2="332.3" y2="224.4" class="t" />
<line x1="333.7" y1="171.0" x2="333.7" y2="242.2" stroke="#555" stroke-width="0.6"/>
<circle cx="261.0" cy="159.2" r="2.4" class="t" fill="#8a8a8a"/>
<circle cx="261.0" cy="159.2" r="1.0" fill="#555" stroke="none"/>
</g>
<g transform="translate(0,482.9) scale(1,-1)">
<path d="M287.7,127 Q287.9,124.6 286.4,123 L289.2,122.6 Q290.5,124 290.5,127 V200.5 L289.4,200.5 L286.5,194 L286.4,171.3 L287.6,171.3 Z" fill="#1c1c1c" stroke="none"/>
<path d="M290.2,126.2 L293.4,125.2 L295.6,122.6 L325.0,142.6" class="t" fill="none"/>
<path d="M324.3,142.6 V152 M326.2,143.4 V152" class="t" fill="none"/>
<line x1="323.8" y1="145.5" x2="332.3" y2="145.5" class="t" />
<path d="M308,151.2 H280.5 Q271.6,151.2 271.6,159.5 V242.2" fill="none" stroke="#9a9a9a" stroke-width="3.0"/>
<path d="M308,149.9 H280 Q270.3,149.9 270.3,159.5 V242.2" fill="none" stroke="#2a2a2a" stroke-width="1.0"/>
<path d="M308,152.6 H281 Q272.9,152.6 272.9,159.5 V242.2" fill="none" stroke="#2a2a2a" stroke-width="1.0"/>
<rect x="304.4" y="141.4" width="4.0" height="3.6" fill="#555" stroke="#2a2a2a" stroke-width="0.9"/>
<rect x="305.4" y="142.6" width="2.0" height="1.8" fill="#e8e8e8" stroke="none"/>
<rect x="311.3" y="141.4" width="4.0" height="3.6" fill="#555" stroke="#2a2a2a" stroke-width="0.9"/>
<rect x="312.3" y="142.6" width="2.0" height="1.8" fill="#e8e8e8" stroke="none"/>
<rect x="318.2" y="141.4" width="4.0" height="3.6" fill="#555" stroke="#2a2a2a" stroke-width="0.9"/>
<rect x="319.2" y="142.6" width="2.0" height="1.8" fill="#e8e8e8" stroke="none"/>
<rect x="302.6" y="145.2" width="21.2" height="2.8" fill="#fff" stroke="#2a2a2a" stroke-width="1.0"/>
<line x1="304.0" y1="146.9" x2="322.5" y2="146.9" stroke="#999" stroke-width="0.9"/>
<rect x="279.0" y="153.0" width="3.6" height="3.9" fill="#fff" stroke="#2a2a2a" stroke-width="1.0"/>
<rect x="279.0" y="165.4" width="3.6" height="4.0" fill="#fff" stroke="#2a2a2a" stroke-width="1.0"/>
<rect x="283.4" y="152.8" width="2.9" height="16.8" fill="#fff" stroke="#2a2a2a" stroke-width="1.0"/>
<rect x="281.2" y="159.2" width="2.2" height="4.2" fill="#777" stroke="none"/>
<rect x="287.9" y="153.9" width="1.7" height="2.7" fill="#fff" stroke="none"/>
<rect x="287.9" y="159.3" width="1.7" height="4.2" fill="#fff" stroke="none"/>
<rect x="287.9" y="165.3" width="1.7" height="4.1" fill="#fff" stroke="none"/>
<rect x="290.8" y="152.9" width="35.2" height="18.3" rx="2.6" fill="#4c4c4c" stroke="#2a2a2a" stroke-width="1.0"/>
<rect x="292.2" y="154.2" width="32.6" height="15.8" rx="2.0" fill="none" stroke="#cfcfcf" stroke-width="0.7"/>
<rect x="292.6" y="154.9" width="7.3" height="1.1" fill="#f4f4f4" stroke="none"/>
<rect x="292.6" y="157.2" width="7.3" height="1.2" fill="#f4f4f4" stroke="none"/>
<rect x="292.6" y="160.5" width="7.3" height="1.8" fill="#f4f4f4" stroke="none"/>
<rect x="292.6" y="163.8" width="7.3" height="1.2" fill="#f4f4f4" stroke="none"/>
<rect x="292.6" y="166.5" width="7.3" height="1.5" fill="#f4f4f4" stroke="none"/>
<rect x="301.1" y="156.9" width="1.8" height="13.7" fill="#f0f0f0" stroke="none"/>
<rect x="305.0" y="158.1" width="18.2" height="6.0" fill="#fff" stroke="none"/>
<rect x="310.7" y="150.2" width="6.0" height="6.1" fill="#fff" stroke="#2a2a2a" stroke-width="0.8"/>
<rect x="318.6" y="150.6" width="5.2" height="1.6" fill="#fff" stroke="none"/>
<rect x="319.2" y="154.4" width="4.2" height="1.2" fill="#ddd" stroke="none"/>
<rect x="305.3" y="165.9" width="1.5" height="4.1" fill="#f0f0f0" stroke="none"/>
<rect x="311.3" y="165.9" width="1.5" height="4.1" fill="#f0f0f0" stroke="none"/>
<rect x="314.3" y="165.9" width="1.5" height="4.1" fill="#f0f0f0" stroke="none"/>
<rect x="317.3" y="166.5" width="6.5" height="1.5" fill="#f4f4f4" stroke="none"/>
<line x1="326.4" y1="171.3" x2="326.4" y2="242.2" class="t" />
<path d="M326.4,171.3 L327.8,176 V190 L326.8,196" fill="none" stroke="#262626" stroke-width="1.6"/>
<rect x="329.0" y="176.6" width="3.3" height="7.2" class="t" fill="#eee"/>
<line x1="326.6" y1="190.2" x2="332.3" y2="190.2" class="t" />
<line x1="326.6" y1="192.8" x2="332.3" y2="192.8" class="t" />
<line x1="326.6" y1="197.0" x2="332.3" y2="197.0" class="t" />
<line x1="326.6" y1="212.4" x2="332.3" y2="212.4" class="t" />
<line x1="326.6" y1="219.3" x2="332.3" y2="219.3" class="t" />
<line x1="326.6" y1="224.4" x2="332.3" y2="224.4" class="t" />
<line x1="333.7" y1="171.0" x2="333.7" y2="242.2" stroke="#555" stroke-width="0.6"/>
<circle cx="261.0" cy="159.2" r="2.4" class="t" fill="#8a8a8a"/>
<circle cx="261.0" cy="159.2" r="1.0" fill="#555" stroke="none"/>
</g>
<path d="M543.2,150.2 Q543.2,147.7 546.7,147.5 C555.2,145.9 559.2,145.3 563.2,145.3 H575.7 C579.7,145.3 583.7,145.9 592.2,147.5 Q595.7,147.7 595.7,150.2 V170.8 Q595.7,173.3 592.2,173.5 C583.7,175.1 579.7,175.7 575.7,175.7 H563.2 C559.2,175.7 555.2,175.1 546.7,173.5 Q543.2,173.3 543.2,170.8 Z" class="m" fill="#fff"/>
<path d="M544.9000000000001,150.2 V170.8 M594.0,150.2 V170.8" class="t" fill="none"/>
<line x1="544.2" y1="149.5" x2="594.7" y2="149.5" class="t" />
<line x1="544.2" y1="171.5" x2="594.7" y2="171.5" class="t" />
<line x1="551.5" y1="149.2" x2="587.0" y2="149.2" stroke="#262626" stroke-width="1.9"/>
<line x1="551.5" y1="171.8" x2="587.0" y2="171.8" stroke="#262626" stroke-width="1.9"/>
<rect x="557" y="146.0" width="24" height="2.5" rx="1.2" class="t" fill="#fff"/>
<rect x="557" y="172.5" width="24" height="2.5" rx="1.2" class="t" fill="#fff"/>
<line x1="569.1" y1="149.5" x2="569.1" y2="171.5" stroke="#262626" stroke-width="2.3"/>
<path d="M543.2,311.8 Q543.2,309.3 546.7,309.1 C555.2,307.50000000000006 559.2,306.90000000000003 563.2,306.90000000000003 H575.7 C579.7,306.90000000000003 583.7,307.50000000000006 592.2,309.1 Q595.7,309.3 595.7,311.8 V332.40000000000003 Q595.7,334.90000000000003 592.2,335.1 C583.7,336.7 579.7,337.3 575.7,337.3 H563.2 C559.2,337.3 555.2,336.7 546.7,335.1 Q543.2,334.90000000000003 543.2,332.40000000000003 Z" class="m" fill="#fff"/>
<path d="M544.9000000000001,311.8 V332.40000000000003 M594.0,311.8 V332.40000000000003" class="t" fill="none"/>
<line x1="544.2" y1="311.1" x2="594.7" y2="311.1" class="t" />
<line x1="544.2" y1="333.1" x2="594.7" y2="333.1" class="t" />
<line x1="551.5" y1="310.8" x2="587.0" y2="310.8" stroke="#262626" stroke-width="1.9"/>
<line x1="551.5" y1="333.4" x2="587.0" y2="333.4" stroke="#262626" stroke-width="1.9"/>
<rect x="557" y="307.6" width="24" height="2.5" rx="1.2" class="t" fill="#fff"/>
<rect x="557" y="334.1" width="24" height="2.5" rx="1.2" class="t" fill="#fff"/>
<line x1="569.1" y1="311.1" x2="569.1" y2="333.1" stroke="#262626" stroke-width="2.3"/>
<path d="M194.5,148.6 C203,147.2 209,145.4 215.5,145.4 C224,146 229.5,152 235.4,158.8 L233.8,174.2 C229,180 224,186 215.5,186.4 C209,186.4 203,185 194.5,183.6 Z" class="t" fill="#fff"/>
<path d="M215.5,146.8 C228,149 231.5,160 231.2,166.2 C231,174 226,184 215.5,185.2" class="t" fill="none"/>
<line x1="200.5" y1="150.2" x2="207.5" y2="150.6" class="t" />
<line x1="200.5" y1="181.8" x2="207.5" y2="181.4" class="t" />
<circle cx="219.8" cy="166.1" r="2.6" class="t" fill="#777"/>
<circle cx="232.3" cy="161.3" r="1.7" class="t" fill="#999"/>
<circle cx="230.6" cy="175.8" r="1.7" class="t" fill="#999"/>
<line x1="186.0" y1="166.4" x2="209.7" y2="166.4" class="t" />
<path d="M164.0,109.5 C165,104.5 171.5,103.8 176.6,108.2 C181,113.5 186.5,124 189.8,134.6 C193.6,145 196.3,156 196.3,166 C196.3,178 193.6,190 189.4,198.5 C186,208 180,219 174.3,225.8 C170.5,230 166.5,231.5 164.2,227.6 C162.6,222 164.4,209 166,201.4 C167.2,196 169,191.6 172.4,188.4 L181.4,189.4 L184.4,179.6 L185.6,156 L182.2,142.2 L180.2,146 L172.6,146 C169.6,144 168.6,138 167.5,132.9 C166.2,125 164.4,116 164.0,109.5 Z" class="m" fill="#fff"/>
<g>
<path d="M174.6,187.6 C170.8,187.4 168.8,190.4 167.6,195 C165.8,204 165.0,214 165.2,221.6 C165.6,226.6 168.6,228.0 171.4,225.2 C174.4,221.2 176.6,214.4 178.2,206 C179.6,199 180.8,193.6 180.6,190.8 C180.0,188.4 177.6,187.6 174.6,187.6 Z" stroke="#262626" stroke-width="1.25" fill="none"/>
<path d="M181.4,186.6 L186.8,187.6 C187.6,192 187.2,197 185.6,203 C184.2,207.6 181.8,212 178.8,215.6 L177.4,214.0 C179.6,209 181.0,203 181.6,196 Z" fill="#1c1c1c" stroke="none"/>
<path d="M182.2,204.4 L185.8,200.8 M180.2,210.4 L183.8,206.8 M183.0,197.6 L186.6,194.6" stroke="#fff" stroke-width="0.9" fill="none"/>
<path d="M171.0,187.6 H178.4" stroke="#262626" stroke-width="2.0" fill="none"/>
</g>
<g transform="translate(0,332.8) scale(1,-1)">
<path d="M174.6,187.6 C170.8,187.4 168.8,190.4 167.6,195 C165.8,204 165.0,214 165.2,221.6 C165.6,226.6 168.6,228.0 171.4,225.2 C174.4,221.2 176.6,214.4 178.2,206 C179.6,199 180.8,193.6 180.6,190.8 C180.0,188.4 177.6,187.6 174.6,187.6 Z" stroke="#262626" stroke-width="1.25" fill="none"/>
<path d="M181.4,186.6 L186.8,187.6 C187.6,192 187.2,197 185.6,203 C184.2,207.6 181.8,212 178.8,215.6 L177.4,214.0 C179.6,209 181.0,203 181.6,196 Z" fill="#1c1c1c" stroke="none"/>
<path d="M182.2,204.4 L185.8,200.8 M180.2,210.4 L183.8,206.8 M183.0,197.6 L186.6,194.6" stroke="#fff" stroke-width="0.9" fill="none"/>
<path d="M171.0,187.6 H178.4" stroke="#262626" stroke-width="2.0" fill="none"/>
</g>
<path d="M176.6,108.2 C183,121 189,140 190.2,160 C190.6,176 187,196 181,212" class="t" fill="none"/>
<path d="M165.2,143.2 Q165.2,142 166.6,142 H169.6 M165.2,143.2 V153.8 L167.2,156.2" class="t" fill="none"/>
<path d="M165.4,179.6 L164.2,182 V190 L166.2,193" class="t" fill="none"/>
<rect x="158.9" y="156.2" width="26.7" height="23.2" class="m" fill="#fff"/>
<path d="M170.6,156.2 C168.4,164 168.2,172 166.6,179.4" class="t" fill="none"/>
<path d="M181.2,156.2 C182,164 182,172 181,179.4" class="t" fill="none"/>
<rect x="189.0" y="157.4" width="3.8" height="20.4" rx="1.9" class="t" fill="#fff"/>
<rect x="190.1" y="161" width="1.6" height="13.2" rx="0.8" class="t" fill="#fff"/>
<line x1="158.9" y1="166.4" x2="180.5" y2="166.4" class="t" />
<line x1="178.6" y1="162.4" x2="178.6" y2="165.6" class="t" />
<line x1="178.6" y1="168.6" x2="178.6" y2="171.6" class="t" />
<line x1="171.8" y1="100.0" x2="171.8" y2="146.2" class="t" />
<line x1="160.0" y1="121.0" x2="186.0" y2="121.0" class="t" />
<line x1="150.0" y1="166.4" x2="209.7" y2="166.4" class="t" />
<line x1="170.0" y1="327.4" x2="205.0" y2="327.4" class="t" />
<g class="lbl"><text x="144.0" y="72.4" font-size="15.6" textLength="26.2" lengthAdjust="spacingAndGlyphs" >100</text>
<text x="253.8" y="72.5" font-size="15.6" textLength="17.2" lengthAdjust="spacingAndGlyphs" >12</text>
<text x="526.6" y="72.5" font-size="15.6" >1</text>
<text x="702.1" y="72.4" font-size="15.6" textLength="25.2" lengthAdjust="spacingAndGlyphs" >100</text>
<text x="456.0" y="106.9" font-size="15.6" textLength="7.0" lengthAdjust="spacingAndGlyphs" >x</text>
<text x="422.0" y="425.5" font-size="16.4" textLength="24.6" lengthAdjust="spacingAndGlyphs" >Ast</text>
<text x="157.8" y="404.8" font-size="16.2" textLength="22.6" lengthAdjust="spacingAndGlyphs" >Wa</text>
<text x="40.2" y="249.2" font-size="16.2" textLength="17.2" lengthAdjust="spacingAndGlyphs" transform="rotate(-90 40.2 249.2)" >b1</text>
<text x="67.6" y="258.2" font-size="16.2" textLength="27.6" lengthAdjust="spacingAndGlyphs" transform="rotate(-90 67.6 258.2)" >b10</text>
<text x="483.4" y="166.2" font-size="16.2" textLength="9.6" lengthAdjust="spacingAndGlyphs" transform="rotate(-90 483.4 166.2)" >e</text>
<text x="746.2" y="250.4" font-size="16.2" textLength="26.8" lengthAdjust="spacingAndGlyphs" transform="rotate(-90 746.2 250.4)" >b11</text>
<text x="769.8" y="249.2" font-size="16.2" textLength="17.8" lengthAdjust="spacingAndGlyphs" transform="rotate(-90 769.8 249.2)" >b5</text></g>
</g>
<g id="sideview">
<g class="t"><line x1="926.2" y1="31.3" x2="1135.3" y2="31.3" />
<line x1="1133.0" y1="31.3" x2="1133.0" y2="212.5" />
<line x1="1133.0" y1="231.5" x2="1133.0" y2="414.2" />
<line x1="1058.6" y1="76.4" x2="1120.6" y2="76.4" />
<line x1="1118.3" y1="76.4" x2="1118.3" y2="233.0" />
<line x1="1118.3" y1="252.0" x2="1118.3" y2="414.2" />
<line x1="907.0" y1="198.0" x2="1106.0" y2="198.0" />
<line x1="1104.0" y1="198.0" x2="1104.0" y2="295.0" />
<line x1="1104.0" y1="313.8" x2="1104.0" y2="414.2" />
<line x1="836.8" y1="281.3" x2="873.5" y2="281.3" />
<line x1="839.2" y1="281.3" x2="839.2" y2="334.5" />
<line x1="839.2" y1="357.5" x2="839.2" y2="414.1" />
<line x1="851.4" y1="331.1" x2="889.6" y2="331.1" />
<line x1="853.7" y1="331.1" x2="853.7" y2="364.0" />
<line x1="853.7" y1="380.0" x2="853.7" y2="414.1" />
<line x1="836.8" y1="414.1" x2="894.0" y2="414.1" />
<line x1="861.0" y1="424.7" x2="1011.9" y2="424.7" />
<line x1="868.3" y1="379.4" x2="868.3" y2="438.7" />
<line x1="884.2" y1="414.1" x2="884.2" y2="427.5" />
<line x1="868.3" y1="436.2" x2="1058.2" y2="436.2" />
<line x1="1058.2" y1="361.7" x2="1058.2" y2="438.4" />
<line x1="1011.9" y1="377.7" x2="1011.9" y2="426.8" />
<line x1="933.4" y1="365.0" x2="1058.2" y2="365.0" />
<line x1="933.4" y1="380.5" x2="1011.9" y2="380.5" />
<line x1="933.4" y1="396.4" x2="985.1" y2="396.4" />
<line x1="985.1" y1="389.5" x2="985.1" y2="404.0" />
<line x1="1058.2" y1="405.8" x2="1092.2" y2="405.8" />
<line x1="1058.2" y1="411.8" x2="1076.0" y2="411.8" />
<line x1="1074.5" y1="398.2" x2="1074.5" y2="422.6" />
<line x1="1090.5" y1="394.8" x2="1090.5" y2="414.2" />
<line x1="1012.0" y1="414.2" x2="1135.5" y2="414.2" /></g>
<polygon points="1133.0,31.3 1134.1,36.8 1131.9,36.8" class="ah"/>
<polygon points="1133.0,414.2 1131.9,408.7 1134.1,408.7" class="ah"/>
<polygon points="1118.3,76.4 1119.4,81.9 1117.2,81.9" class="ah"/>
<polygon points="1118.3,414.2 1117.2,408.7 1119.4,408.7" class="ah"/>
<polygon points="1104.0,198.0 1105.1,203.5 1102.9,203.5" class="ah"/>
<polygon points="1104.0,414.2 1102.9,408.7 1105.1,408.7" class="ah"/>
<polygon points="839.2,281.3 840.3,286.8 838.1,286.8" class="ah"/>
<polygon points="839.2,414.1 838.1,408.6 840.3,408.6" class="ah"/>
<polygon points="853.7,331.1 854.8,336.6 852.6,336.6" class="ah"/>
<polygon points="853.7,414.1 852.6,408.6 854.8,408.6" class="ah"/>
<polygon points="868.3,424.7 863.3,425.7 863.3,423.7" class="ah"/>
<polygon points="884.2,424.7 889.2,423.7 889.2,425.7" class="ah"/>
<polygon points="1011.9,424.7 1006.9,425.7 1006.9,423.7" class="ah"/>
<polygon points="868.3,436.2 873.3,435.2 873.3,437.2" class="ah"/>
<polygon points="1058.2,436.2 1053.2,437.2 1053.2,435.2" class="ah"/>
<polygon points="933.4,365.0 938.4,364.0 938.4,366.0" class="ah"/>
<polygon points="1058.2,365.0 1053.2,366.0 1053.2,364.0" class="ah"/>
<polygon points="933.4,380.5 938.4,379.5 938.4,381.5" class="ah"/>
<polygon points="1011.9,380.5 1006.9,381.5 1006.9,379.5" class="ah"/>
<polygon points="933.4,396.4 938.4,395.4 938.4,397.4" class="ah"/>
<polygon points="985.1,396.4 980.1,397.4 980.1,395.4" class="ah"/>
<polygon points="1074.5,411.8 1073.5,407.3 1075.5,407.3" class="ah"/>
<polygon points="1074.5,414.4 1075.5,418.9 1073.5,418.9" class="ah"/>
<polygon points="1090.5,405.8 1091.5,410.3 1089.5,410.3" class="ah"/>
<polygon points="1090.5,414.2 1089.5,409.7 1091.5,409.7" class="ah"/>
<g class="d"><line x1="911.0" y1="34.0" x2="911.0" y2="197.5" />
<line x1="914.9" y1="34.0" x2="914.9" y2="197.5" />
<line x1="916.6" y1="34.0" x2="916.6" y2="197.5" />
<line x1="924.2" y1="34.0" x2="924.2" y2="197.5" />
<line x1="932.8" y1="31.4" x2="932.8" y2="82.6" />
<line x1="926.4" y1="31.4" x2="926.4" y2="197.5" />
<line x1="932.9" y1="76.3" x2="1058.6" y2="76.3" />
<path d="M926.2,82.6 H1041 C1046,80.4 1052,79.2 1058.6,78.4" fill="none"/>
<line x1="926.4" y1="64.4" x2="932.8" y2="64.4" /></g>
<line x1="927.0" y1="85.5" x2="1040.0" y2="85.5" stroke="#dedede" stroke-width="0.8" stroke-dasharray="6 3"/>
<rect x="910.4" y="33.2" width="14.9" height="2.4" fill="#3a3a3a" stroke="none"/>
<line x1="925.3" y1="64.4" x2="925.3" y2="81.0" stroke="#444" stroke-width="2.0" stroke-dasharray="1.2 0.9"/>
<g class="m"><path d="M911.3,199 V411.2" fill="none"/>
<path d="M924.4,198 V411.2" fill="none"/>
<path d="M925.9,360 V411.2" fill="none"/></g>
<path d="M907.4,198.2 H924.4 V200.2 H909.2 Q907,200 907.4,198.2 Z" fill="#333" stroke="#262626" stroke-width="0.8"/>
<path d="M908.4,200 Q908.4,203.4 911.3,203.6" fill="none" stroke="#262626" stroke-width="1"/>
<circle cx="919.5" cy="202.6" r="3.4" class="m" fill="#fff"/>
<path d="M919.5,199.4 V202.6 L916.8,204.4 M919.5,202.6 L922.2,204.4" stroke="#262626" stroke-width="1.1" fill="none"/>
<circle cx="919.5" cy="213.8" r="3.4" class="m" fill="#fff"/>
<path d="M919.5,210.60000000000002 V213.8 L916.8,215.60000000000002 M919.5,213.8 L922.2,215.60000000000002" stroke="#262626" stroke-width="1.1" fill="none"/>
<path d="M905.2,224.4 H916 A5.8,5.8 0 0 1 916,236 H905.2 Q904.2,236 904.2,235 V225.4 Q904.2,224.4 905.2,224.4 Z" class="m" fill="#fff"/>
<path d="M911.3,224.4 V236" stroke="#262626" stroke-width="0.9" fill="none"/>
<path d="M913.5,226.5 A4,4 0 0 0 913.5,233.8" stroke="#aaa" stroke-width="2.2" fill="none"/>
<line x1="917.5" y1="228.4" x2="919.5" y2="228.4" stroke="#262626" stroke-width="0.9"/>
<line x1="917.5" y1="232.2" x2="919.5" y2="232.2" stroke="#262626" stroke-width="0.9"/>
<rect x="907.2" y="236.6" width="4.0" height="89.6" fill="#3c3c3c" stroke="#262626" stroke-width="0.8"/>
<line x1="909.2" y1="237.0" x2="909.2" y2="326.0" stroke="#bbb" stroke-width="1.3" stroke-dasharray="0.8 1.4"/>
<rect x="908.2" y="245.5" width="2.2" height="3.0" fill="#111" stroke="none"/>
<rect x="908.2" y="282.5" width="2.2" height="3.0" fill="#111" stroke="none"/>
<rect x="908.2" y="318.0" width="2.2" height="3.0" fill="#111" stroke="none"/>
<rect x="912.2" y="405.6" width="12.0" height="5.6" class="m" fill="#fff"/>
<line x1="914.2" y1="405.6" x2="914.2" y2="411.2" stroke="#262626" stroke-width="1.6"/>
<rect x="926.8" y="360.6" width="6.4" height="50.6" class="m" fill="#fff"/>
<line x1="926.8" y1="394.2" x2="933.2" y2="394.2" class="t" />
<path d="M933.2,405.7 H1058.2" stroke="#262626" stroke-width="1.2" fill="none"/>
<path d="M1040,411.4 C1044,408.8 1050,407.6 1058.2,407.2" stroke="#262626" stroke-width="1.0" fill="none"/>
<path d="M905,411.8 H1058.2" stroke="#262626" stroke-width="1.3" fill="none"/>
<path d="M1003,412 Q1006,415.2 1009,412 M1013.5,412.2 Q1016,414.6 1019.5,412.6" stroke="#262626" stroke-width="1.0" fill="none"/>
<g class="t"><path d="M889.6,331.1 H911.3" fill="none"/>
<path d="M901.6,330.8 C897.5,331.2 894.6,333 894.4,337.5 V410.4" fill="none"/>
<path d="M896.2,335 V410.4" fill="none"/>
<path d="M894.4,410.4 H911.3" fill="none"/></g>
<path d="M888.6,333.4 Q890.6,337.2 887.6,341.1 Q890.6,344.9 887.6,348.8 Q890.6,352.6 887.6,356.5 Q890.6,360.3 887.6,364.2 Q890.6,368.0 887.6,371.9 Q890.6,375.7 887.6,379.6 C888.0,384 890.5,386.6 893.2,388.2" stroke="#2a2a2a" stroke-width="1.5" fill="none"/>
<path d="M887.0,335 V379" stroke="#555" stroke-width="0.8" fill="none"/>
<path d="M887.6,333.2 L890.6,328.6 L892.8,330.2 L890.2,334.2 Z" fill="#777" stroke="#262626" stroke-width="0.9"/>
<path d="M868.9,411.2 V381 Q868.9,379.0 870.6,379.0 H886.6 M868.7,409.6 H894.4" class="m" fill="none"/>
<path d="M870.2,381.4 L873.4,389.4 H894.4" class="m" fill="none"/>
<path d="M873.6,410.2 C876,415.2 890.4,415.2 892.8,410.2" stroke="#262626" stroke-width="1.2" fill="#ddd"/>
<path d="M876.6,410.6 C879,413.6 887.4,413.6 889.8,410.6" stroke="#262626" stroke-width="1.0" fill="#777"/>
<path d="M872.1,309.5 V368.6 M876.9,308.5 V368.6" stroke="#262626" stroke-width="1.7" fill="none"/>
<circle cx="874.3" cy="342.6" r="0.9" fill="#262626" stroke="none"/>
<path d="M873.2,369 C870.8,371 870.8,376.4 874.2,377.6 L882,378.4 C885.6,378.6 886.6,376.6 885,374.4 C883,371.6 879,369.4 873.2,369 Z" class="m" fill="#fff"/>
<circle cx="878.8" cy="373.6" r="1.3" fill="#262626" stroke="none"/>
<path d="M864.9,283.6 Q864.7,282.1 866.0,282.0 L872.6,281.6 Q873.6,281.6 873.9,282.7 L878.4,305.4 Q878.7,307.4 877.4,308.2 L873.0,309.7 Q871.5,309.9 870.8,308.3 L865.7,289.4 Z" fill="#fff" stroke="#222" stroke-width="1.8"/>
<path d="M865.6,283.0 L873.2,282.4 L874.2,287.0 L871.6,288.0 L868.4,290.6 L866.6,289.0 Z" fill="#2c2c2c" stroke="none"/>
<path d="M866.8,285.5 L869.0,284.7 M870.4,284.6 L872.6,284.2" fill="none" stroke="#fff" stroke-width="1.1"/>
<path d="M873.2,288.4 L875.0,288.0 L877.4,303.8 L875.6,306.0 L873.0,304.6 L870.4,297.6 L870.8,292.0 Z" fill="#b4b4b4" stroke="none"/>
<path d="M873.6,287.6 C870.8,289.6 869.4,291.6 869.6,294.6 C870.0,298.6 871.4,302.4 873.4,304.4 C874.4,305.4 875.6,305.6 876.8,305.2" fill="none" stroke="#222" stroke-width="1.2"/>
<path d="M871.2,295.8 L873.6,297.0 L875.2,301.4 L873.8,303.0 L871.9,300.8 Z" fill="#0a0a0a" stroke="none"/>
<g class="lbl"><text x="823.6" y="349.9" font-size="18.4" textLength="25.8" lengthAdjust="spacingAndGlyphs" >h14</text>
<text x="841.9" y="377.7" font-size="16.4" textLength="23.8" lengthAdjust="spacingAndGlyphs" >765</text>
<text x="870.4" y="422.6" font-size="8.6" textLength="13.2" lengthAdjust="spacingAndGlyphs" >143</text>
<text x="945.8" y="420.4" font-size="15.6" textLength="6.0" lengthAdjust="spacingAndGlyphs" >y</text>
<text x="958.8" y="435.0" font-size="12.2" textLength="11.6" lengthAdjust="spacingAndGlyphs" >11</text>
<text x="992.6" y="363.4" font-size="15.6" >1</text>
<text x="969.6" y="379.9" font-size="15.6" textLength="7.2" lengthAdjust="spacingAndGlyphs" >x</text>
<text x="956.8" y="394.9" font-size="16.4" textLength="7.4" lengthAdjust="spacingAndGlyphs" >c</text>
<text x="987.4" y="398.5" font-size="16.2" textLength="11.4" lengthAdjust="spacingAndGlyphs" >Q</text>
<text x="1095.6" y="311.3" font-size="17.6" textLength="16.0" lengthAdjust="spacingAndGlyphs" >h1</text>
<text x="1109.8" y="249.4" font-size="17.6" textLength="16.8" lengthAdjust="spacingAndGlyphs" >h3</text>
<text x="1125.2" y="228.8" font-size="17.6" textLength="17.4" lengthAdjust="spacingAndGlyphs" >h4</text>
<text x="1073.5" y="401.8" font-size="19.0" textLength="6.8" lengthAdjust="spacingAndGlyphs" transform="rotate(-90 1073.5 401.8)" >s</text>
<text x="1089.0" y="403.6" font-size="17.0" textLength="25.8" lengthAdjust="spacingAndGlyphs" transform="rotate(-90 1089.0 403.6)" >h13</text></g>
</g>
<g id="chart" fill="#2e2624" stroke="none">
<rect x="289.1" y="492.8" width="615.0" height="409.0" rx="15" ry="15" fill="#f7f7f7" stroke="#38322f" stroke-width="1.6"/>
<text x="472.6" y="552.6" font-size="32.2" textLength="133.0" lengthAdjust="spacingAndGlyphs" stroke="#2e2624" stroke-width="1.05">CAPACITY</text>
<text x="618.0" y="552.6" font-size="32.2" textLength="97.0" lengthAdjust="spacingAndGlyphs" stroke="#2e2624" stroke-width="1.05">CHART</text>
<rect x="452.3" y="562.0" width="275.3" height="3.0" fill="#2e2624"/>
<text x="473.6" y="594.3" font-size="22.2" textLength="51.6" lengthAdjust="spacingAndGlyphs" stroke="#2e2624" stroke-width="0.3">LOAD</text>
<text x="535.4" y="594.3" font-size="22.2" textLength="78.6" lengthAdjust="spacingAndGlyphs" stroke="#2e2624" stroke-width="0.3">CENTER</text>
<text x="623.6" y="594.3" font-size="22.2" textLength="88.4" lengthAdjust="spacingAndGlyphs" stroke="#2e2624" stroke-width="0.3">600(mm)</text>
<text x="367.3" y="598.0" font-size="20" textLength="34.6" lengthAdjust="spacingAndGlyphs" stroke="#2e2624" stroke-width="0.25">(kg)</text>
<g stroke="#2e2624" stroke-width="2.35" fill="none">
<rect x="414.5" y="618.6" width="374.9" height="188.4"/>
<line x1="452.0" y1="618.6" x2="452.0" y2="807.0" />
<line x1="489.5" y1="618.6" x2="489.5" y2="807.0" />
<line x1="527.0" y1="618.6" x2="527.0" y2="807.0" />
<line x1="564.5" y1="618.6" x2="564.5" y2="807.0" />
<line x1="602.0" y1="618.6" x2="602.0" y2="807.0" />
<line x1="639.4" y1="618.6" x2="639.4" y2="807.0" />
<line x1="676.9" y1="618.6" x2="676.9" y2="807.0" />
<line x1="714.4" y1="618.6" x2="714.4" y2="807.0" />
<line x1="751.9" y1="618.6" x2="751.9" y2="807.0" />
<line x1="414.5" y1="650.0" x2="789.4" y2="650.0" />
<line x1="414.5" y1="681.4" x2="789.4" y2="681.4" />
<line x1="414.5" y1="712.8" x2="789.4" y2="712.8" />
<line x1="414.5" y1="744.2" x2="789.4" y2="744.2" />
<line x1="414.5" y1="775.6" x2="789.4" y2="775.6" />
</g>
<path d="M564.5,618.6 L789.4,807.0" stroke="#2e2624" stroke-width="3.7" fill="none"/>
<circle cx="414.5" cy="618.6" r="5.9" fill="#2e2624"/>
<circle cx="489.5" cy="618.6" r="5.9" fill="#2e2624"/>
<circle cx="564.5" cy="618.6" r="5.9" fill="#2e2624"/>
<circle cx="639.4" cy="681.4" r="5.9" fill="#2e2624"/>
<circle cx="714.4" cy="744.2" r="5.9" fill="#2e2624"/>
<circle cx="789.4" cy="807.0" r="5.9" fill="#2e2624"/>
<text x="362.5" y="626.3" font-size="20.3" textLength="42.3" lengthAdjust="spacingAndGlyphs" stroke="#2e2624" stroke-width="0.2">1500</text>
<text x="363.5" y="689.0" font-size="20.3" textLength="42.3" lengthAdjust="spacingAndGlyphs" stroke="#2e2624" stroke-width="0.2">1100</text>
<text x="373.2" y="751.4" font-size="20.3" textLength="31.6" lengthAdjust="spacingAndGlyphs" stroke="#2e2624" stroke-width="0.2">700</text>
<text x="373.2" y="813.2" font-size="20.3" textLength="31.6" lengthAdjust="spacingAndGlyphs" stroke="#2e2624" stroke-width="0.2">300</text>
<text x="393.5" y="841.8" font-size="20.5" textLength="42.0" lengthAdjust="spacingAndGlyphs" stroke="#2e2624" stroke-width="0.2">1600</text>
<text x="468.8" y="841.8" font-size="20.5" textLength="42.0" lengthAdjust="spacingAndGlyphs" stroke="#2e2624" stroke-width="0.2">2000</text>
<text x="543.2" y="841.8" font-size="20.5" textLength="42.0" lengthAdjust="spacingAndGlyphs" stroke="#2e2624" stroke-width="0.2">2500</text>
<text x="620.2" y="841.8" font-size="20.5" textLength="42.0" lengthAdjust="spacingAndGlyphs" stroke="#2e2624" stroke-width="0.2">3000</text>
<text x="695.6" y="841.8" font-size="20.5" textLength="42.0" lengthAdjust="spacingAndGlyphs" stroke="#2e2624" stroke-width="0.2">3500</text>
<text x="769.6" y="841.8" font-size="20.5" textLength="42.0" lengthAdjust="spacingAndGlyphs" stroke="#2e2624" stroke-width="0.2">4000</text>
<text x="818.0" y="839.8" font-size="20.8" textLength="48.0" lengthAdjust="spacingAndGlyphs" stroke="#2e2624" stroke-width="0.2">(mm)</text>
<text x="744.0" y="866.8" font-size="21.8" textLength="35.4" lengthAdjust="spacingAndGlyphs" stroke="#2e2624" stroke-width="0.1">Lift</text>
<text x="786.6" y="866.8" font-size="21.8" textLength="71.6" lengthAdjust="spacingAndGlyphs" stroke="#2e2624" stroke-width="0.1">Height</text>
<text x="343.2" y="703.4" font-size="22.5" textLength="96.6" lengthAdjust="spacingAndGlyphs" transform="rotate(-90 343.2 703.4)" stroke="#2e2624" stroke-width="0.2" letter-spacing="0.6">Capacity</text>
</g>
</svg>
</body></html>
